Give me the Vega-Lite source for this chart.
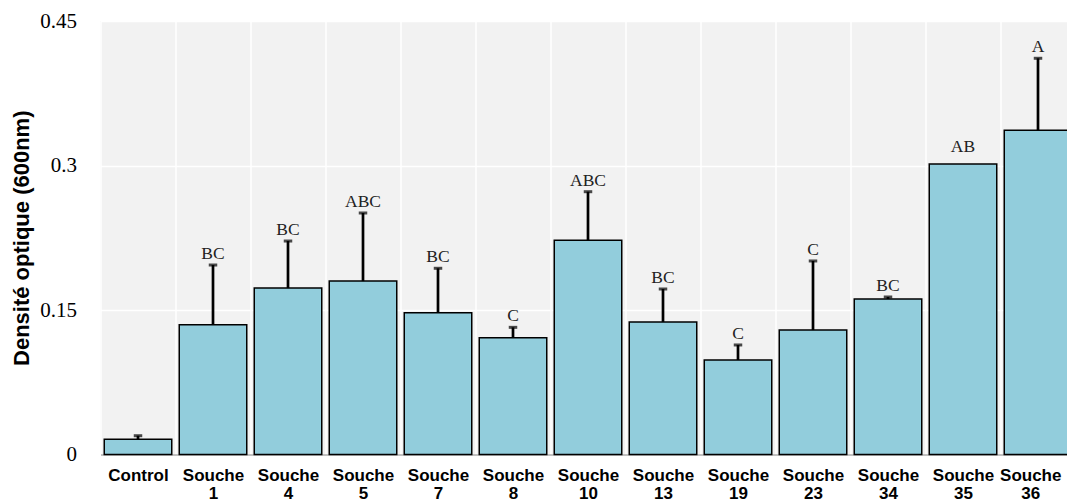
{
  "$schema": "https://vega.github.io/schema/vega-lite/v6.json",
  "width": 975,
  "height": 433.5,
  "autosize": {"type": "none"},
  "padding": {"left": 100.5, "top": 21, "right": 0, "bottom": 47.5},
  "background": "white",
  "config": {
    "view": {"fill": "#f2f2f2", "stroke": null}
  },
  "data": {
    "values": [
      {"souche": "Control", "od": 0.0158, "upper": 0.0195, "groupe": ""},
      {"souche": "Souche 1", "od": 0.1348, "upper": 0.1967, "groupe": "BC"},
      {"souche": "Souche 4", "od": 0.1728, "upper": 0.2216, "groupe": "BC"},
      {"souche": "Souche 5", "od": 0.180, "upper": 0.2507, "groupe": "ABC"},
      {"souche": "Souche 7", "od": 0.1472, "upper": 0.1933, "groupe": "BC"},
      {"souche": "Souche 8", "od": 0.1213, "upper": 0.132, "groupe": "C"},
      {"souche": "Souche 10", "od": 0.2224, "upper": 0.2728, "groupe": "ABC"},
      {"souche": "Souche 13", "od": 0.1376, "upper": 0.1718, "groupe": "BC"},
      {"souche": "Souche 19", "od": 0.0981, "upper": 0.1137, "groupe": "C"},
      {"souche": "Souche 23", "od": 0.1292, "upper": 0.2009, "groupe": "C"},
      {"souche": "Souche 34", "od": 0.1614, "upper": 0.1635, "groupe": "BC"},
      {"souche": "Souche 35", "od": 0.3016, "upper": null, "groupe": "AB"},
      {"souche": "Souche 36", "od": 0.3366, "upper": 0.4113, "groupe": "A"}
    ]
  },
  "encoding": {
    "x": {
      "field": "souche",
      "type": "nominal",
      "sort": null,
      "scale": {"paddingInner": 0.1, "paddingOuter": 0.05},
      "axis": {
        "title": null,
        "labelExpr": "split(datum.label, ' ')",
        "labelFont": "Liberation Sans",
        "labelFontWeight": "bold",
        "labelFontSize": 17,
        "labelColor": "black",
        "labelAngle": 0,
        "labelLineHeight": 18,
        "labelPadding": 13,
        "ticks": false,
        "domain": true,
        "domainColor": "#c0c0c0",
        "domainWidth": 2,
        "grid": true,
        "gridColor": "white",
        "gridWidth": 1.5,
        "bandPosition": 0,
        "tickOffset": -3.75,
        "labelOffset": {"condition": {"test": "datum.value == 'Souche 36'", "value": -4}, "value": 3.75}
      }
    }
  },
  "layer": [
    {
      "mark": {"type": "bar", "fill": "#92cddc", "stroke": "black", "strokeWidth": 1.5},
      "encoding": {
        "y": {
          "field": "od",
          "type": "quantitative",
          "scale": {"domain": [0, 0.45], "nice": false},
          "axis": {
            "title": "Densité optique (600nm)",
            "titleFont": "Liberation Sans",
            "titleFontWeight": "bold",
            "titleFontSize": 22,
            "titleColor": "black",
            "titlePadding": 6,
            "values": [0, 0.15, 0.3, 0.45],
            "format": ".2~f",
            "labelFont": "Liberation Serif",
            "labelFontSize": 21,
            "labelColor": "black",
            "labelPadding": 24,
            "ticks": false,
            "domain": false,
            "grid": true,
            "gridColor": "white",
            "gridWidth": 1.5
          }
        }
      }
    },
    {
      "transform": [{"filter": "datum.upper != null"}],
      "mark": {"type": "rule", "color": "black", "strokeWidth": 2.7},
      "encoding": {
        "y": {"field": "od", "type": "quantitative"},
        "y2": {"field": "upper"}
      }
    },
    {
      "transform": [{"filter": "datum.upper != null"}],
      "mark": {"type": "tick", "color": "black", "size": 8.5, "thickness": 3},
      "encoding": {
        "y": {"field": "upper", "type": "quantitative"}
      }
    },
    {
      "transform": [{"filter": "datum.upper != null"}],
      "mark": {"type": "text", "font": "Liberation Serif", "fontSize": 17.5, "color": "#222222", "baseline": "alphabetic", "dy": -6},
      "encoding": {
        "y": {"field": "upper", "type": "quantitative"},
        "text": {"field": "groupe"}
      }
    },
    {
      "transform": [{"filter": "datum.upper == null"}],
      "mark": {"type": "text", "font": "Liberation Serif", "fontSize": 17.5, "color": "#222222", "baseline": "alphabetic", "dy": -12},
      "encoding": {
        "y": {"field": "od", "type": "quantitative"},
        "text": {"field": "groupe"}
      }
    }
  ]
}
